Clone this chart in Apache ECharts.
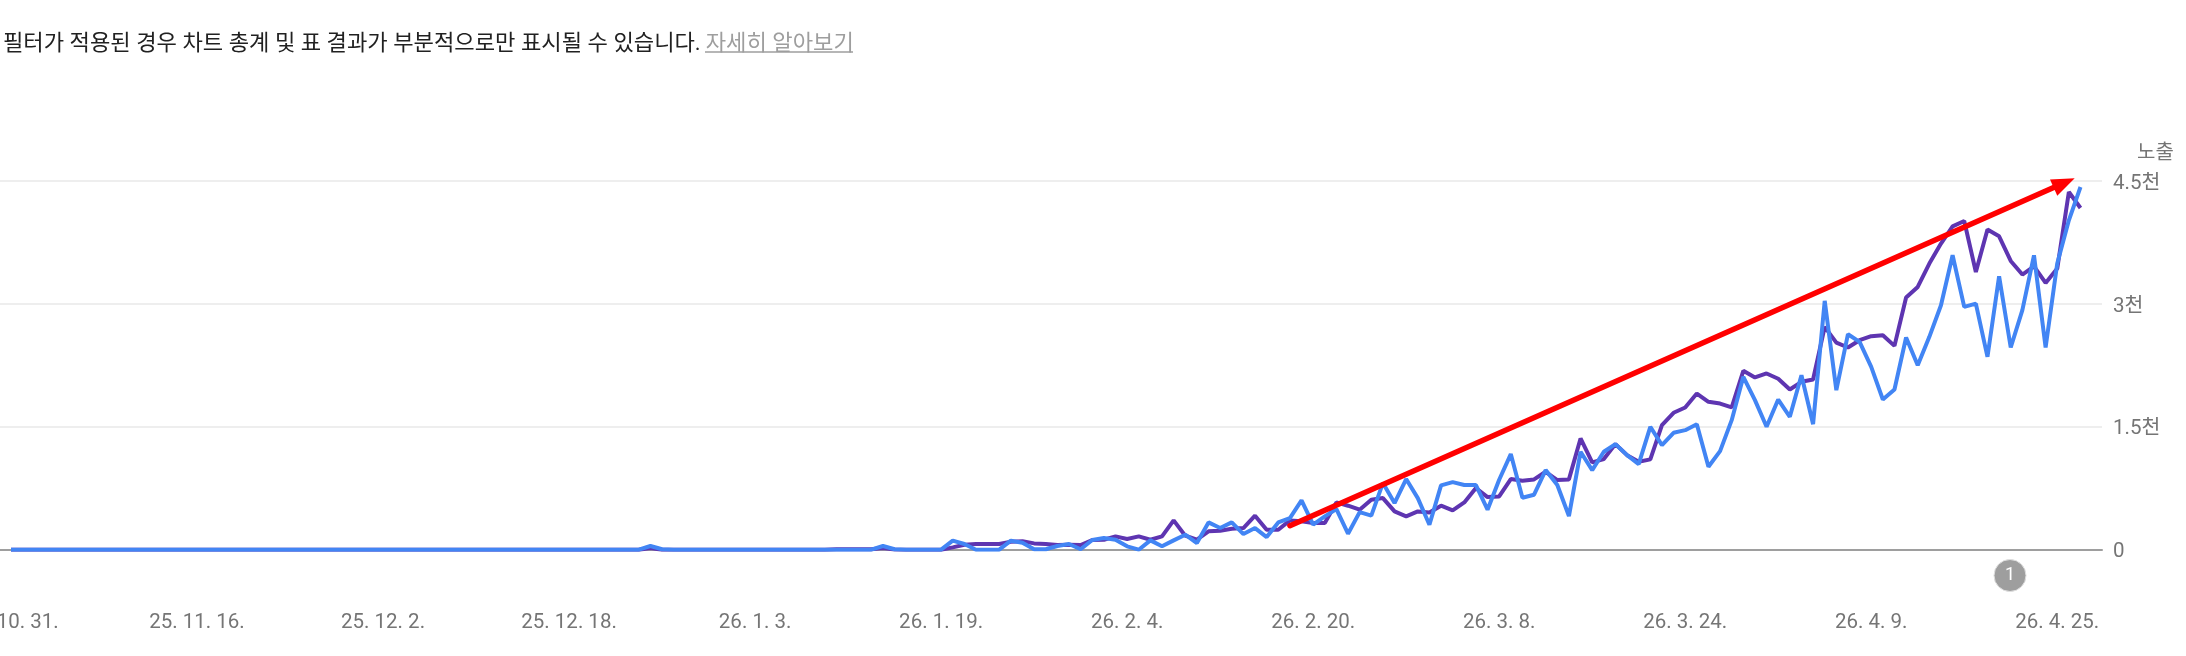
<!DOCTYPE html>
<html><head><meta charset="utf-8">
<style>html,body{margin:0;padding:0;background:#fff}#c{width:2186px;height:656px}</style>
<script src="https://cdn.jsdelivr.net/npm/echarts@6/dist/echarts.min.js"></script>
</head><body><div id="c"></div>
<script>
const tickLabels = ['25. 10. 31.','25. 11. 16.','25. 12. 2.','25. 12. 18.','26. 1. 3.','26. 1. 19.','26. 2. 4.','26. 2. 20.','26. 3. 8.','26. 3. 24.','26. 4. 9.','26. 4. 25.'];
const tickIndexes = [0,16,32,48,64,80,96,112,128,144,160,176];
const yTicks = {0:'0',1500:'1.5천',3000:'3천',4500:'4.5천'};
const purpleValues = [
0,0,0,0,0,0,0,0,0,0,0,0,0,0,0,0,0,0,0,0,0,0,0,0,0,0,0,0,0,0,
0,0,0,0,0,0,0,0,0,0,0,0,0,0,0,0,0,0,0,0,0,0,0,0,0,
20,0,0,0,0,0,0,0,0,0,0,0,0,0,0,0,5,5,5,5,20,3,0,0,0,0,
28,60,70,70,70,98,102,77,70,57,61,57,118,
122,163,130,163,122,163,358,171,122,224,232,256,264,415,244,244,358,346,325,325,577,537,488,610,630,467,407,467,455,537,480,577,752,642,650,
862,842,858,951,850,858,1358,1065,1106,1289,1154,1073,1102,1520,1671,1736,1906,1805,1784,1736,2183,2102,2151,2086,1955,2049,2077,
2720,2528,2468,2557,2606,2618,2488,3077,3207,3492,3736,3947,4012,3390,3907,3825,3524,3358,3459,3256,3431,4366,4171];
const blueValues = [
0,0,0,0,0,0,0,0,0,0,0,0,0,0,0,0,0,0,0,0,0,0,0,0,0,0,0,0,0,0,
0,0,0,0,0,0,0,0,0,0,0,0,0,0,0,0,0,0,0,0,0,0,0,0,0,
45,5,0,0,0,0,0,0,0,0,0,0,0,0,0,0,0,0,0,0,45,5,0,0,0,0,
110,70,0,0,0,110,85,5,5,45,70,5,118,
142,122,41,0,114,41,114,183,81,333,264,333,191,264,154,333,386,602,305,407,496,195,459,415,813,569,862,630,305,785,825,789,789,488,854,
1167,634,671,972,789,411,1195,972,1195,1289,1154,1045,1500,1276,1427,1459,1532,1012,1203,1581,2110,1825,1500,1833,1622,2130,1532,
3037,1947,2630,2537,2232,1833,1955,2590,2252,2598,2984,3593,2963,3004,2354,3337,2468,2923,3593,2468,3492,4020,4427];
const trendLine = [[110, 293, 177.5, 4533]];
const toPairs = a => a.map((v,i)=>[i,v]);
const FONT = 'Roboto, "Noto Sans CJK KR", sans-serif';
const chart = echarts.init(document.getElementById('c'));
chart.setOption({
  animation:false,
  backgroundColor:'#fff',
  title:{left:-2,top:28,text:'{a|필터가 적용된 경우 차트 총계 및 표 결과가 부분적으로만 표시될 수 있습니다.} {b|자세히 알아보기}',
    textStyle:{fontWeight:'normal',rich:{a:{fontSize:22.15,fontWeight:'normal',color:'#212121',fontFamily:FONT},b:{fontSize:22.15,fontWeight:'normal',color:'#9e9e9e',fontFamily:FONT}}}},
  grid:{left:0,right:84,top:181,height:368.7,outerBoundsMode:'none',containLabel:false},
  xAxis:{type:'value',min:-0.946,max:179.85,splitLine:{show:false},axisTick:{show:false},
    axisLine:{show:true,onZero:true,lineStyle:{color:'#9e9e9e',width:2}},
    axisLabel:{customValues:tickIndexes,margin:63,color:'#757575',fontSize:20.5,fontFamily:FONT,hideOverlap:false,
      formatter:v=>tickLabels[tickIndexes.indexOf(v)]||''}},
  yAxis:{type:'value',position:'right',min:0,max:4500,interval:1500,
    name:'노출',nameLocation:'end',nameGap:17,
    nameTextStyle:{color:'#757575',fontSize:20,fontFamily:FONT,align:'left',padding:[0,0,0,35]},
    axisLine:{show:false,onZero:false},axisTick:{show:false},
    splitLine:{lineStyle:{color:'#eeeeee',width:2}},
    axisLabel:{margin:11,padding:[5,0,0,0],rich:{l:{color:'#757575',fontSize:20.5,fontFamily:FONT}},formatter:v=>'{l|'+yTicks[v]+'}'}},
  series:[
    {name:'purple',type:'line',data:toPairs(purpleValues),showSymbol:false,lineStyle:{color:'#5e35b1',width:4},itemStyle:{color:'#5e35b1'},z:3},
    {name:'blue',type:'line',data:toPairs(blueValues),showSymbol:false,lineStyle:{color:'#4285f4',width:4},itemStyle:{color:'#4285f4'},z:4},
    {name:'trend',type:'custom',z:6,silent:true,clip:false,data:trendLine,encode:{x:[0,2],y:[1,3]},
     renderItem:(params,api)=>{
       const a=api.coord([api.value(0),api.value(1)]), b=api.coord([api.value(2),api.value(3)]);
       const ang=Math.atan2(b[1]-a[1],b[0]-a[0]), L=23, W=9;
       const bx=b[0]-L*Math.cos(ang), by=b[1]-L*Math.sin(ang);
       const nx=-Math.sin(ang), ny=Math.cos(ang);
       return {type:'group',children:[
         {type:'line',shape:{x1:a[0],y1:a[1],x2:bx,y2:by},style:{stroke:'#ff0000',lineWidth:5.5,lineCap:'round'}},
         {type:'polygon',shape:{points:[[b[0],b[1]],[bx+nx*W,by+ny*W],[bx-nx*W,by-ny*W]]},style:{fill:'#ff0000'}}
       ]};
     }}
  ],
  graphic:[
    {type:'line',shape:{x1:705,y1:52,x2:853,y2:52},style:{stroke:'#9e9e9e',lineWidth:1.5}},
    {type:'circle',shape:{cx:2010,cy:575.5,r:16},style:{fill:'#9e9e9e',stroke:'#e0e0e0',lineWidth:1}},
    {type:'text',x:2010,y:575,style:{text:'1',fill:'#fff',fontSize:18,fontFamily:FONT,align:'center',verticalAlign:'middle'}}
  ]
});
</script></body></html>
